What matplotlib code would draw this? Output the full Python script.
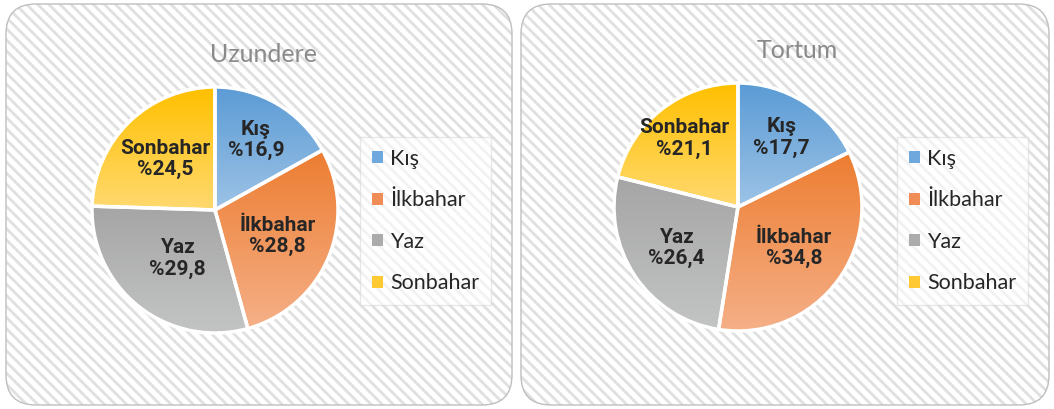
import matplotlib
matplotlib.use("Agg")
import matplotlib.pyplot as plt
import numpy as np
from matplotlib.patches import FancyBboxPatch, Patch
from matplotlib.colors import to_rgb

# data
seasons = ["Kış", "İlkbahar", "Yaz", "Sonbahar"]
uzundere = [16.9, 28.8, 29.8, 24.5]
tortum = [17.7, 34.8, 26.4, 21.1]
titles = ["Uzundere", "Tortum"]

# colours (top of gradient / bottom of gradient)
top_cols = ["#5B9BD5", "#ED7D31", "#A5A5A5", "#FFC000"]
bot_cols = ["#9DC3E6", "#F5B088", "#C3C4C4", "#FFD970"]
leg_cols = ["#6FA8DC", "#F08C55", "#ABABAB", "#FFC933"]

W, H = 1054, 409
plt.rcParams['hatch.linewidth'] = 2.0
label_font = ['Roboto', 'DejaVu Sans']
text_font = ['Lato', 'DejaVu Sans']

fig = plt.figure(figsize=(W / 100, H / 100), dpi=100)

# background panels in pixel coords
bg = fig.add_axes([0, 0, 1, 1])
bg.set_xlim(0, W)
bg.set_ylim(H, 0)
bg.axis('off')
panels = [(6, 4, 506, 401), (521, 4, 528, 401)]
for x, y, w, h in panels:
    bg.add_patch(FancyBboxPatch((x, y), w, h, boxstyle="round,pad=0,rounding_size=30",
                                facecolor='white', edgecolor='#e0e0e0', linewidth=0,
                                hatch='\\\\\\'))
    bg.add_patch(FancyBboxPatch((x, y), w, h, boxstyle="round,pad=0,rounding_size=30",
                                facecolor='none', edgecolor='#bfbfbf', linewidth=1.0))


def px_axes(cx, cy, r, pad=1.1):
    s = 2 * r * pad
    return fig.add_axes([(cx - s / 2) / W, (H - cy - s / 2) / H, s / W, s / H])


def draw_pie(ax, values, label_r):
    wedges, _ = ax.pie(values, startangle=90, counterclock=False,
                       wedgeprops=dict(edgecolor='white', linewidth=2.5))
    grad = np.linspace(0, 1, 256)[:, None, None]
    for w, c1, c2 in zip(wedges, top_cols, bot_cols):
        a, b = np.array(to_rgb(c1)), np.array(to_rgb(c2))
        img = a * (1 - grad) + b * grad
        ext = w.get_path().get_extents()
        im = ax.imshow(img, extent=(ext.x0, ext.x1, ext.y0, ext.y1), origin='upper',
                       aspect='auto', zorder=1, interpolation='bilinear')
        im.set_clip_path(w)
        w.set_facecolor('none')
        w.set_zorder(2)
    for w, name, v, r in zip(wedges, seasons, values, label_r):
        mid = np.deg2rad((w.theta1 + w.theta2) / 2)
        ax.text(r * np.cos(mid), r * np.sin(mid), name + "\n%" + f"{v:.1f}".replace('.', ','),
                ha='center', va='center', fontsize=15, fontweight='bold',
                family=label_font, color='#262626', linespacing=1.15, zorder=3)
    ax.set_xlim(-1.1, 1.1)
    ax.set_ylim(-1.1, 1.1)
    ax.set_aspect('equal')
    ax.axis('off')


ax1 = px_axes(215, 210, 123)
draw_pie(ax1, uzundere, [0.66, 0.55, 0.50, 0.58])
ax2 = px_axes(738, 207, 124)
draw_pie(ax2, tortum, [0.66, 0.56, 0.60, 0.70])

# titles
fig.text(263 / W, 1 - 54 / H, titles[0], ha='center', va='center', fontsize=18,
         color='#8a8a8a', family=text_font)
fig.text(797 / W, 1 - 50 / H, titles[1], ha='center', va='center', fontsize=18,
         color='#8a8a8a', family=text_font)

# legends
handles = [Patch(facecolor=c, edgecolor='none') for c in leg_cols]
for lx, ly in [(360, 137), (897, 137)]:
    leg = fig.legend(handles, seasons, loc='upper left', bbox_to_anchor=(lx / W, 1 - ly / H),
                     borderaxespad=0, fancybox=False, edgecolor='#d9d9d9', facecolor='white',
                     framealpha=0.6, handlelength=0.5, handleheight=0.5, handletextpad=0.35,
                     labelspacing=1.0, borderpad=0.55, prop={'family': text_font, 'size': 15.5})
    for t in leg.get_texts():
        t.set_color('#262626')
    leg.get_frame().set_linewidth(1.0)

fig.savefig("out.png", dpi=100)
